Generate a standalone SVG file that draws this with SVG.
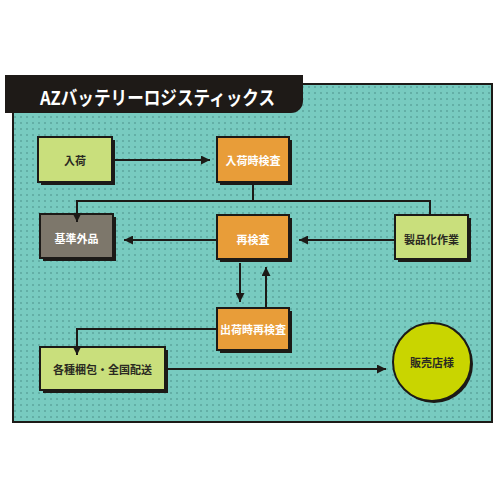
<svg xmlns="http://www.w3.org/2000/svg" width="500" height="500" viewBox="0 0 500 500">
<defs>
<pattern id="dots" x="0" y="0" width="6" height="6" patternUnits="userSpaceOnUse">
<rect width="6" height="6" fill="#78cbc0"/>
<circle cx="3" cy="3" r="0.7" fill="#3d7f77"/>
</pattern>
<marker id="ah" viewBox="0 0 10 10" refX="10" refY="5" markerWidth="9" markerHeight="9" markerUnits="userSpaceOnUse" orient="auto">
<path d="M0,0 L10,5 L0,10 z" fill="#1c1a17"/>
</marker>
</defs>
<style>
.box{stroke:#1c1a17;stroke-width:2}
.sh{fill:#1c1a17}
.g{fill:#c9df7c}
.o{fill:#e89d39}
.gr{fill:#7d776b}
.tw{font-family:"Noto Sans CJK JP","Noto Sans",sans-serif;font-weight:bold;font-size:11px;fill:#ffffff;text-anchor:middle;dominant-baseline:central}
.td{font-family:"Noto Sans CJK JP","Noto Sans",sans-serif;font-weight:bold;font-size:11px;fill:#2a2a22;text-anchor:middle;dominant-baseline:central}
.ln{fill:none;stroke:#1c1a17;stroke-width:2}
</style>
<rect width="500" height="500" fill="#ffffff"/>
<rect x="13" y="84" width="479" height="338" fill="url(#dots)" stroke="#1c1a17" stroke-width="2"/>
<g id="title">
<path d="M5,75 H303 V101 A12,12 0 0 1 291,113 H5 Z" fill="#1e1a17"/>
<text x="40" y="96" font-family="'Noto Sans CJK JP','Noto Sans',sans-serif" font-weight="bold" font-size="19" fill="#ffffff" dominant-baseline="central" textLength="235" lengthAdjust="spacingAndGlyphs">AZバッテリーロジスティックス</text>
</g>
<g id="n1">
<rect class="sh" x="41" y="140" width="74" height="45"/>
<rect class="box g" x="38" y="137" width="74" height="45"/>
<text class="td" x="75" y="159.5">入荷</text>
</g>
<g id="n2">
<rect class="sh" x="220" y="140" width="72" height="45"/>
<rect class="box o" x="217" y="137" width="72" height="45"/>
<text class="tw" x="253" y="159.5">入荷時検査</text>
</g>
<g id="n3">
<rect class="sh" x="43" y="217" width="73" height="44"/>
<rect class="box gr" x="40" y="214" width="73" height="44"/>
<text class="tw" x="76.5" y="238">基準外品</text>
</g>
<g id="n4">
<rect class="sh" x="220" y="218" width="72" height="44"/>
<rect class="box o" x="217" y="215" width="72" height="44"/>
<text class="tw" x="253" y="239">再検査</text>
</g>
<g id="n5">
<rect class="sh" x="398" y="218" width="73" height="44"/>
<rect class="box g" x="395" y="215" width="73" height="44"/>
<text class="td" x="431.5" y="239">製品化作業</text>
</g>
<g id="n6">
<rect class="sh" x="220" y="311" width="72" height="42"/>
<rect class="box o" x="217" y="308" width="72" height="42"/>
<text class="tw" x="253" y="329">出荷時再検査</text>
</g>
<g id="n7">
<rect class="sh" x="43" y="350" width="125" height="43"/>
<rect class="box g" x="40" y="347" width="125" height="43"/>
<text class="td" x="102.5" y="368.5">各種梱包・全国配送</text>
</g>
<g id="n8">
<circle class="sh" cx="434" cy="364" r="39"/>
<circle class="box" cx="432" cy="362" r="39" fill="#c9d500"/>
<text class="td" x="432" y="362">販売店様</text>
</g>
<g id="connectors">
<line class="ln" x1="113" y1="160" x2="210" y2="160" marker-end="url(#ah)"/>
<polyline class="ln" points="253,183 253,201 430,201 430,214"/>
<polyline class="ln" points="253,201 77,201 77,222" marker-end="url(#ah)"/>
<line class="ln" x1="216" y1="240" x2="124" y2="240" marker-end="url(#ah)"/>
<line class="ln" x1="394" y1="240" x2="299" y2="240" marker-end="url(#ah)"/>
<line class="ln" x1="240" y1="263" x2="240" y2="302" stroke-width="3" marker-end="url(#ah)"/>
<line class="ln" x1="266" y1="307" x2="266" y2="267" marker-end="url(#ah)"/>
<polyline class="ln" points="216,329 77,329 77,355" marker-end="url(#ah)"/>
<line class="ln" x1="166" y1="369" x2="386" y2="369" marker-end="url(#ah)"/>
</g>
</svg>
